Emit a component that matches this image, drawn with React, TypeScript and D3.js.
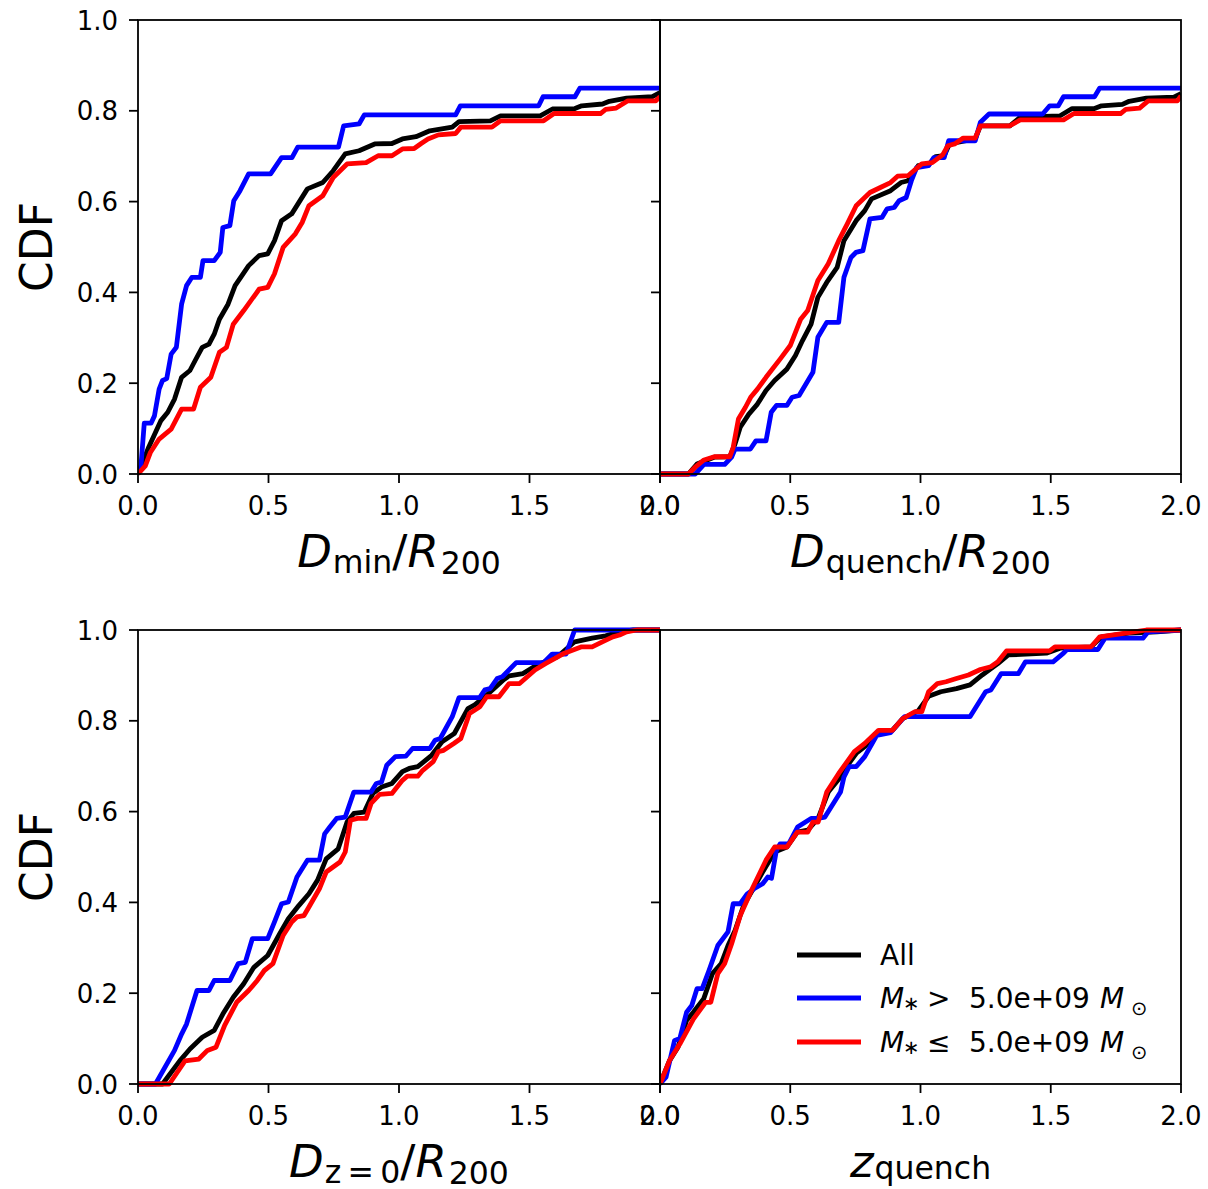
import React from "react";
import * as d3 from "d3";

type P = [number, number];

// ---------- Tick labels ----------
const xTicks = [0, 0.5, 1.0, 1.5, 2.0];
const yTicks = [0, 0.2, 0.4, 0.6, 0.8, 1.0];

// ---------- Legend ----------
const seriesNames = ["All", "5.0e+09", "5.0e+09"];
const seriesRelations = ["", ">", "\u2264"];
const seriesColors = ["#000000", "#0000ff", "#ff0000"];

// ---------- Panel 1: D_min / R200 ----------
const dminAll: P[] = [[0,0],[0.041,0.059],[0.087,0.117],[0.114,0.136],[0.14,0.165],[0.167,0.213],[0.199,0.228],[0.219,0.25],[0.246,0.279],[0.272,0.286],[0.292,0.308],[0.312,0.341],[0.345,0.374],[0.372,0.415],[0.424,0.459],[0.464,0.481],[0.497,0.485],[0.523,0.514],[0.55,0.558],[0.589,0.573],[0.649,0.628],[0.708,0.642],[0.748,0.668],[0.794,0.705],[0.847,0.712],[0.907,0.727],[0.973,0.728],[1.013,0.738],[1.065,0.743],[1.118,0.756],[1.204,0.764],[1.23,0.776],[1.35,0.778],[1.389,0.789],[1.541,0.789],[1.588,0.804],[1.674,0.805],[1.7,0.811],[1.78,0.815],[1.806,0.821],[1.872,0.828],[1.971,0.831],[2.0,0.84]];
const dminHigh: P[] = [[0,0],[0.011,0.015],[0.024,0.112],[0.05,0.112],[0.063,0.128],[0.081,0.187],[0.094,0.206],[0.11,0.21],[0.127,0.264],[0.147,0.279],[0.167,0.374],[0.186,0.415],[0.206,0.433],[0.239,0.433],[0.249,0.47],[0.292,0.47],[0.315,0.488],[0.325,0.543],[0.352,0.547],[0.367,0.602],[0.391,0.624],[0.424,0.661],[0.508,0.661],[0.55,0.697],[0.59,0.697],[0.612,0.72],[0.768,0.72],[0.788,0.767],[0.847,0.771],[0.867,0.791],[1.217,0.791],[1.235,0.811],[1.535,0.811],[1.552,0.831],[1.674,0.831],[1.693,0.85],[2.0,0.85]];
const dminLow: P[] = [[0,0],[0.028,0.018],[0.048,0.048],[0.081,0.077],[0.127,0.099],[0.167,0.143],[0.213,0.143],[0.239,0.191],[0.279,0.213],[0.312,0.268],[0.339,0.279],[0.365,0.33],[0.405,0.36],[0.464,0.407],[0.497,0.411],[0.523,0.441],[0.556,0.499],[0.603,0.529],[0.629,0.554],[0.655,0.591],[0.708,0.613],[0.748,0.653],[0.801,0.683],[0.874,0.686],[0.92,0.701],[0.973,0.701],[1.013,0.716],[1.058,0.717],[1.085,0.728],[1.111,0.738],[1.151,0.747],[1.217,0.75],[1.237,0.764],[1.356,0.764],[1.389,0.778],[1.554,0.778],[1.594,0.794],[1.772,0.794],[1.792,0.803],[1.832,0.806],[1.877,0.822],[1.984,0.822],[2.0,0.831]];

// ---------- Panel 2: D_quench / R200 ----------
const dqAll: P[] = [[0,0],[0.109,0],[0.142,0.022],[0.208,0.037],[0.268,0.038],[0.288,0.066],[0.308,0.103],[0.341,0.132],[0.374,0.154],[0.407,0.184],[0.44,0.206],[0.487,0.231],[0.52,0.261],[0.547,0.294],[0.58,0.33],[0.606,0.389],[0.64,0.422],[0.68,0.455],[0.706,0.514],[0.753,0.558],[0.786,0.58],[0.812,0.606],[0.885,0.624],[0.925,0.642],[0.952,0.646],[0.991,0.679],[1.031,0.681],[1.058,0.699],[1.091,0.701],[1.111,0.727],[1.21,0.738],[1.23,0.767],[1.343,0.767],[1.383,0.786],[1.536,0.789],[1.582,0.805],[1.668,0.805],[1.695,0.811],[1.775,0.814],[1.801,0.821],[1.867,0.828],[1.973,0.83],[2.0,0.838]];
const dqHigh: P[] = [[0,0],[0.135,0],[0.169,0.021],[0.248,0.021],[0.275,0.037],[0.288,0.055],[0.347,0.055],[0.368,0.073],[0.407,0.073],[0.427,0.136],[0.447,0.151],[0.487,0.151],[0.507,0.169],[0.534,0.173],[0.587,0.224],[0.606,0.301],[0.64,0.334],[0.686,0.334],[0.706,0.433],[0.733,0.477],[0.752,0.488],[0.779,0.492],[0.806,0.562],[0.852,0.565],[0.872,0.584],[0.899,0.587],[0.918,0.602],[0.945,0.609],[0.965,0.646],[0.985,0.675],[1.031,0.679],[1.051,0.697],[1.091,0.697],[1.108,0.734],[1.21,0.734],[1.23,0.775],[1.263,0.793],[1.469,0.793],[1.496,0.811],[1.529,0.811],[1.549,0.831],[1.668,0.831],[1.688,0.85],[2.0,0.85]];
const dqLow: P[] = [[0,0],[0.109,0],[0.135,0.015],[0.169,0.031],[0.208,0.038],[0.268,0.038],[0.281,0.059],[0.301,0.121],[0.328,0.147],[0.348,0.169],[0.374,0.187],[0.407,0.213],[0.461,0.253],[0.5,0.283],[0.54,0.341],[0.567,0.36],[0.606,0.426],[0.646,0.463],[0.686,0.514],[0.719,0.551],[0.753,0.591],[0.806,0.62],[0.846,0.631],[0.885,0.642],[0.912,0.656],[0.952,0.657],[1.005,0.683],[1.045,0.686],[1.085,0.703],[1.105,0.723],[1.131,0.727],[1.164,0.74],[1.21,0.74],[1.23,0.767],[1.343,0.767],[1.383,0.78],[1.549,0.78],[1.589,0.794],[1.768,0.794],[1.788,0.803],[1.841,0.806],[1.874,0.822],[1.986,0.822],[2.0,0.833]];

// ---------- Panel 3: D_{z=0} / R200 ----------
const dz0All: P[] = [[0,0],[0.094,0],[0.16,0.051],[0.199,0.077],[0.246,0.103],[0.292,0.118],[0.325,0.154],[0.365,0.191],[0.405,0.221],[0.444,0.257],[0.497,0.283],[0.543,0.331],[0.576,0.364],[0.616,0.393],[0.655,0.419],[0.688,0.449],[0.721,0.496],[0.767,0.518],[0.801,0.577],[0.827,0.596],[0.867,0.599],[0.9,0.64],[0.933,0.654],[0.973,0.662],[1.013,0.688],[1.039,0.695],[1.072,0.699],[1.125,0.724],[1.165,0.754],[1.212,0.772],[1.264,0.827],[1.29,0.835],[1.343,0.86],[1.402,0.891],[1.422,0.899],[1.475,0.904],[1.528,0.923],[1.607,0.941],[1.673,0.974],[1.74,0.982],[1.792,0.987],[1.845,0.996],[1.898,1.0],[2.0,1.0]];
const dz0High: P[] = [[0,0],[0.067,0],[0.14,0.074],[0.167,0.11],[0.186,0.132],[0.226,0.206],[0.272,0.206],[0.292,0.228],[0.352,0.228],[0.384,0.265],[0.411,0.268],[0.438,0.32],[0.497,0.32],[0.523,0.357],[0.55,0.397],[0.576,0.401],[0.609,0.456],[0.649,0.493],[0.695,0.493],[0.715,0.551],[0.735,0.566],[0.761,0.585],[0.794,0.588],[0.827,0.643],[0.893,0.643],[0.913,0.662],[0.933,0.665],[0.953,0.702],[0.986,0.721],[1.026,0.722],[1.052,0.739],[1.118,0.739],[1.138,0.757],[1.158,0.761],[1.204,0.809],[1.23,0.851],[1.309,0.851],[1.329,0.868],[1.349,0.871],[1.376,0.893],[1.396,0.897],[1.449,0.928],[1.554,0.928],[1.587,0.947],[1.64,0.947],[1.673,1.0],[2.0,1.0]];
const dz0Low: P[] = [[0,0],[0.12,0],[0.18,0.051],[0.233,0.055],[0.266,0.074],[0.299,0.081],[0.332,0.129],[0.378,0.18],[0.424,0.206],[0.457,0.228],[0.484,0.25],[0.517,0.265],[0.556,0.327],[0.589,0.357],[0.609,0.368],[0.636,0.371],[0.655,0.39],[0.695,0.43],[0.721,0.467],[0.774,0.489],[0.794,0.511],[0.814,0.581],[0.841,0.585],[0.874,0.585],[0.893,0.618],[0.926,0.638],[0.973,0.64],[1.013,0.669],[1.032,0.678],[1.072,0.678],[1.091,0.691],[1.131,0.71],[1.151,0.732],[1.171,0.735],[1.21,0.75],[1.237,0.761],[1.27,0.816],[1.31,0.831],[1.336,0.853],[1.383,0.853],[1.422,0.882],[1.462,0.882],[1.521,0.912],[1.561,0.926],[1.634,0.949],[1.7,0.963],[1.74,0.963],[1.779,0.974],[1.819,0.985],[1.845,0.989],[1.872,0.996],[1.911,1.0],[2.0,1.0]];

// ---------- Panel 4: z_quench ----------
const zqAll: P[] = [[0,0],[0.036,0.051],[0.069,0.081],[0.102,0.14],[0.128,0.158],[0.168,0.188],[0.201,0.243],[0.235,0.265],[0.261,0.305],[0.288,0.338],[0.321,0.393],[0.354,0.426],[0.394,0.467],[0.44,0.511],[0.487,0.522],[0.527,0.555],[0.567,0.559],[0.607,0.585],[0.646,0.643],[0.693,0.676],[0.72,0.702],[0.753,0.728],[0.786,0.743],[0.832,0.772],[0.892,0.779],[0.932,0.805],[0.991,0.822],[1.031,0.854],[1.078,0.864],[1.138,0.871],[1.19,0.879],[1.237,0.901],[1.297,0.926],[1.337,0.945],[1.483,0.949],[1.536,0.96],[1.655,0.963],[1.695,0.985],[1.8,0.993],[1.907,0.996],[2.0,1.0]];
const zqHigh: P[] = [[0,0],[0.023,0.015],[0.056,0.096],[0.076,0.1],[0.102,0.158],[0.122,0.173],[0.142,0.21],[0.162,0.21],[0.188,0.25],[0.222,0.305],[0.261,0.335],[0.281,0.397],[0.308,0.397],[0.334,0.418],[0.361,0.43],[0.394,0.441],[0.414,0.456],[0.428,0.453],[0.447,0.515],[0.461,0.529],[0.494,0.529],[0.528,0.566],[0.58,0.585],[0.607,0.585],[0.633,0.588],[0.693,0.643],[0.706,0.676],[0.726,0.699],[0.753,0.699],[0.786,0.721],[0.832,0.768],[0.885,0.774],[0.939,0.809],[1.19,0.809],[1.25,0.864],[1.27,0.868],[1.31,0.904],[1.376,0.904],[1.403,0.93],[1.509,0.93],[1.549,0.949],[1.562,0.957],[1.681,0.957],[1.708,0.982],[1.854,0.982],[1.874,0.996],[2.0,1.0]];
const zqLow: P[] = [[0,0],[0.036,0.051],[0.076,0.088],[0.128,0.143],[0.175,0.18],[0.195,0.18],[0.222,0.243],[0.248,0.265],[0.275,0.309],[0.308,0.371],[0.354,0.43],[0.407,0.493],[0.44,0.522],[0.487,0.522],[0.527,0.555],[0.567,0.555],[0.587,0.577],[0.607,0.577],[0.64,0.643],[0.686,0.684],[0.746,0.732],[0.786,0.75],[0.839,0.779],[0.892,0.779],[0.932,0.805],[0.978,0.82],[1.005,0.82],[1.031,0.864],[1.065,0.882],[1.098,0.886],[1.138,0.893],[1.184,0.901],[1.23,0.913],[1.27,0.919],[1.297,0.93],[1.33,0.954],[1.496,0.954],[1.516,0.963],[1.655,0.963],[1.688,0.985],[1.8,0.994],[1.867,1.0],[2.0,1.0]];

// ---------- Layout ----------
const W = 1208;
const H = 1189;
const colEdges = [138, 660, 1181];
const rowEdges: [number, number][] = [[20, 474], [630, 1084]];
const FONT = "DejaVu Sans, Liberation Sans, sans-serif";
const tickFont = 26;
const labelFont = 45;
const subFont = labelFont * 0.7;
const tickLen = 9;

type Panel = {
  id: string;
  col: number;
  row: number;
  series: P[][];
  label: React.ReactNode;
};

function AxisLabelD(sub: React.ReactNode) {
  return (
    <>
      <tspan fontStyle="italic">D</tspan>
      <tspan fontSize={subFont} dx={1} dy={6}>{sub}</tspan>
      <tspan dy={-6}>/</tspan>
      <tspan fontStyle="italic">R</tspan>
      <tspan fontSize={subFont} dx={2} dy={7}>200</tspan>
    </>
  );
}

const panels: Panel[] = [
  { id: "p1", col: 0, row: 0, series: [dminAll, dminHigh, dminLow], label: AxisLabelD("min") },
  { id: "p2", col: 1, row: 0, series: [dqAll, dqHigh, dqLow], label: AxisLabelD("quench") },
  { id: "p3", col: 0, row: 1, series: [dz0All, dz0High, dz0Low], label: AxisLabelD("z\u2009=\u20090") },
  {
    id: "p4", col: 1, row: 1, series: [zqAll, zqHigh, zqLow],
    label: (
      <>
        <tspan fontStyle="italic">z</tspan>
        <tspan fontSize={subFont} dx={1} dy={2}>quench</tspan>
      </>
    ),
  },
];

function PanelView({ p }: { p: Panel }) {
  const x0 = colEdges[p.col];
  const x1 = colEdges[p.col + 1];
  const [yTop, yBot] = rowEdges[p.row];
  const x = d3.scaleLinear().domain([0, 2]).range([x0, x1]);
  const y = d3.scaleLinear().domain([0, 1]).range([yBot, yTop]);
  const line = d3.line<P>().x((d) => x(d[0])).y((d) => y(d[1]));
  const fmt = d3.format(".1f");
  return (
    <g>
      <defs>
        <clipPath id={`clip-${p.id}`}>
          <rect x={x0} y={yTop - 3} width={x1 - x0} height={yBot - yTop + 6} />
        </clipPath>
      </defs>
      <g clipPath={`url(#clip-${p.id})`}>
        {p.series.map((s, i) => (
          <path
            key={i}
            d={line(s) || ""}
            fill="none"
            stroke={seriesColors[i]}
            strokeWidth={4.8}
            strokeLinejoin="round"
          />
        ))}
      </g>
      <rect x={x0} y={yTop} width={x1 - x0} height={yBot - yTop} fill="none" stroke="#000" strokeWidth={1.8} />
      {xTicks.map((t) => (
        <g key={`xt${t}`}>
          <line x1={x(t)} x2={x(t)} y1={yBot} y2={yBot + tickLen} stroke="#000" strokeWidth={1.8} />
          <text x={x(t)} y={yBot + 41} textAnchor="middle" fontSize={tickFont} fontFamily={FONT}>
            {fmt(t)}
          </text>
        </g>
      ))}
      {yTicks.map((t) => (
        <g key={`yt${t}`}>
          <line x1={x0 - tickLen} x2={x0} y1={y(t)} y2={y(t)} stroke="#000" strokeWidth={1.8} />
          {p.col === 0 && (
            <text x={x0 - tickLen - 11} y={y(t) + 9.5} textAnchor="end" fontSize={tickFont} fontFamily={FONT}>
              {fmt(t)}
            </text>
          )}
        </g>
      ))}
      <text x={(x0 + x1) / 2} y={yBot + 93} textAnchor="middle" fontSize={labelFont} fontFamily={FONT}>
        {p.label}
      </text>
      {p.col === 0 && (
        <text
          transform={`translate(52,${(yTop + yBot) / 2}) rotate(-90)`}
          textAnchor="middle"
          fontSize={44}
          fontFamily={FONT}
        >
          CDF
        </text>
      )}
    </g>
  );
}

function Legend() {
  const lx0 = 797;
  const lx1 = 861;
  const ys = [955, 998, 1042];
  const fs = 28;
  const sfs = fs * 0.7;
  return (
    <g fontFamily={FONT} fontSize={fs}>
      {ys.map((yy, i) => (
        <g key={i}>
          <line x1={lx0} x2={lx1} y1={yy} y2={yy} stroke={seriesColors[i]} strokeWidth={4.8} />
          {i === 0 ? (
            <text x={880} y={yy + 10}>{seriesNames[0]}</text>
          ) : (
            <g>
              <text x={880} y={yy + 10} fontStyle="italic">M</text>
              <text x={903} y={yy + 12} fontSize={sfs}>{"\u2217"}</text>
              <text x={927} y={yy + 10}>{seriesRelations[i]}</text>
              <text x={969} y={yy + 10}>{seriesNames[i]}</text>
              <text x={1100} y={yy + 10} fontStyle="italic">M</text>
              <text x={1131} y={yy + 17} fontSize={sfs}>{"\u2299"}</text>
            </g>
          )}
        </g>
      ))}
    </g>
  );
}

export default function App() {
  return (
    <svg
      width={W}
      height={H}
      style={{ position: "absolute", left: 0, top: 0, background: "#fff" }}
    >
      <rect width={W} height={H} fill="#fff" />
      {panels.map((p) => (
        <PanelView key={p.id} p={p} />
      ))}
      <Legend />
    </svg>
  );
}
